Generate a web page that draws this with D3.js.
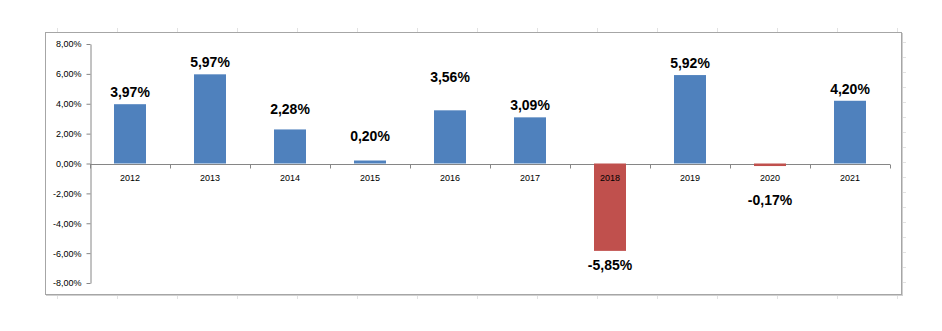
<!DOCTYPE html>
<html>
<head>
<meta charset="utf-8">
<script src="https://cdn.jsdelivr.net/npm/d3@7"></script>
<style>
  html, body { margin: 0; padding: 0; background: #fff; }
  svg { display: block; }
</style>
</head>
<body>
<svg id="chart" width="942" height="331"></svg>
<script>
const years = ["2012","2013","2014","2015","2016","2017","2018","2019","2020","2021"];
const values = [3.97, 5.97, 2.28, 0.20, 3.56, 3.09, -5.85, 5.92, -0.17, 4.20];
const yTicks = [8, 6, 4, 2, 0, -2, -4, -6, -8];
// manual nudges of data labels (extra px away from bar end), as in the original
const labelExtra = {"2014": 8, "2015": 13, "2016": 21, "2020": 20};

const fmt = v => v.toFixed(2).replace(".", ",") + "%";

const svg = d3.select("#chart");

// faint sheet gridline ghosts outside the frame
const ghost = svg.append("g").attr("stroke", "#e2e2e2").attr("stroke-width", 1);
for (let gx = 57; gx < 900; gx += 60) {
  ghost.append("line").attr("x1", gx + 0.5).attr("x2", gx + 0.5).attr("y1", 28).attr("y2", 32);
  ghost.append("line").attr("x1", gx + 0.5).attr("x2", gx + 0.5).attr("y1", 296).attr("y2", 299);
}
for (let gy = 42; gy < 294; gy += 15) {
  ghost.append("line").attr("x1", 903).attr("x2", 906).attr("y1", gy + 0.5).attr("y2", gy + 0.5);
}

// chart frame with slight shadow
svg.append("rect").attr("x", 46.5).attr("y", 33.5).attr("width", 856).attr("height", 262)
  .attr("fill", "none").attr("stroke", "#d0d0d0");
svg.append("rect").attr("x", 45.5).attr("y", 32.5).attr("width", 856).attr("height", 262)
  .attr("fill", "#fff").attr("stroke", "#a6a6a6");

const x = d3.scaleBand().domain(years).range([90, 890]).paddingInner(0.6).paddingOuter(0.3);
const y = d3.scaleLinear().domain([-8, 8]).range([283, 44]);

// y axis
const yAxis = svg.append("g").attr("transform", "translate(90.5,0)")
  .call(d3.axisLeft(y).tickValues(yTicks).tickSize(4).tickSizeOuter(0).tickFormat(fmt).tickPadding(5));
yAxis.select(".domain").attr("stroke", "#868686");
yAxis.selectAll(".tick line").attr("stroke", "#868686");
yAxis.selectAll("text").attr("font-family", "Liberation Sans, Arial, sans-serif")
  .attr("font-size", 9).attr("fill", "#000");

// x axis line and boundary ticks (drawn before bars)
const y0 = Math.round(y(0)) + 0.5;
const xg = svg.append("g").attr("transform", `translate(0,${y0})`);
xg.append("line").attr("x1", 90).attr("x2", 890).attr("stroke", "#868686");
const bounds = d3.range(years.length + 1).map(i => 90 + i * x.step());
xg.selectAll("line.t").data(bounds).join("line").attr("class", "t")
  .attr("x1", d => Math.round(d) + 0.5).attr("x2", d => Math.round(d) + 0.5)
  .attr("y1", 0).attr("y2", 4).attr("stroke", "#868686");

// bars
svg.append("g").selectAll("rect").data(values).join("rect")
  .attr("x", (d, i) => x(years[i]))
  .attr("width", x.bandwidth())
  .attr("y", d => d >= 0 ? y(d) : y(0))
  .attr("height", d => Math.abs(y(d) - y(0)))
  .attr("fill", d => d >= 0 ? "#4F81BD" : "#C0504D");

// category labels (over bars)
svg.append("g").selectAll("text").data(years).join("text")
  .attr("x", d => x(d) + x.bandwidth() / 2)
  .attr("y", y0 + 16)
  .attr("text-anchor", "middle")
  .attr("font-family", "Liberation Sans, Arial, sans-serif")
  .attr("font-size", 9)
  .attr("fill", "#000")
  .text(d => d);

// data labels
svg.append("g").selectAll("text").data(values).join("text")
  .attr("x", (d, i) => x(years[i]) + x.bandwidth() / 2)
  .attr("y", (d, i) => {
    const extra = labelExtra[years[i]] || 0;
    return d >= 0 ? y(d) - 7 - extra : y(d) + 19 + extra;
  })
  .attr("text-anchor", "middle")
  .attr("font-family", "Liberation Sans, Arial, sans-serif")
  .attr("font-weight", "bold")
  .attr("font-size", 14)
  .attr("fill", "#000")
  .text(d => fmt(d));
</script>
</body>
</html>
